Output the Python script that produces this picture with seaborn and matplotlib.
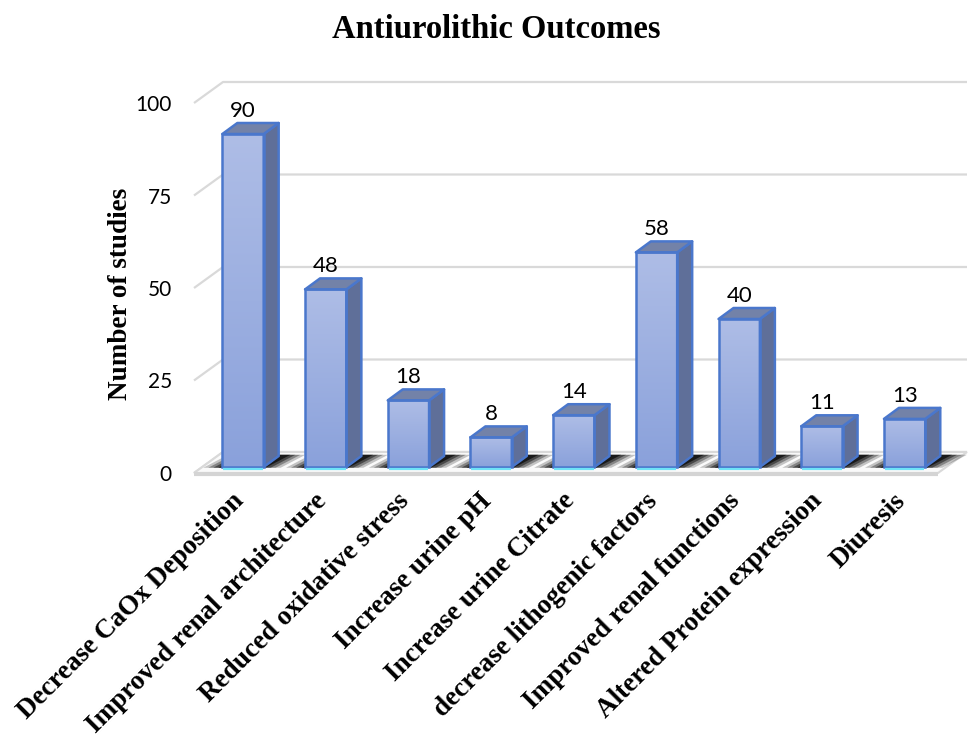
import numpy as np
import pandas as pd
import matplotlib
matplotlib.use("Agg")
import matplotlib.pyplot as plt
import matplotlib.transforms as mtransforms
import seaborn as sns
from matplotlib.patches import Polygon
from matplotlib.colors import LinearSegmentedColormap

# ---- data -------------------------------------------------------------
outcomes = [
    "Decrease CaOx Deposition",
    "Improved renal architecture",
    "Reduced oxidative stress",
    "Increase urine pH",
    "Increase urine Citrate",
    "decrease lithogenic factors",
    "Improved renal functions",
    "Altered Protein expression",
    "Diuresis",
]
studies = [90, 48, 18, 8, 14, 58, 40, 11, 13]
y_ticks = [0, 25, 50, 75, 100]

title = "Antiurolithic Outcomes"
y_label = "Number of studies"

# ---- style ------------------------------------------------------------
sns.set_theme(style="white")
plt.rcParams["font.family"] = ["Liberation Serif", "DejaVu Serif"]
NUM_FONT = ["Lato", "DejaVu Sans"]

FRONT_TOP = "#aebde6"
FRONT_BOT = "#8aa1db"
SIDE_COL = "#5f6f99"
TOP_COL = "#7382a8"
EDGE_COL = "#4a77cc"
GLOW_COL = "#6fe3f7"
GRID_COL = "#d9d9d9"

W, H = 968, 736
fig = plt.figure(figsize=(W / 100, H / 100), dpi=100)

# axes placed in pixel units; one category = CAT_PX px, one study = VAL_PX px
L, R, T, B = 180, 968, 70, 480
CAT_PX, VAL_PX = 82.7, 3.7
X0, Y0 = 243, 467
ax = fig.add_axes([L / W, 1 - B / H, (R - L) / W, (B - T) / H])


def px_offset(dx, dy):
    """screen offset in pixels -> offset in (category, value) units"""
    return dx / CAT_PX, -dy / VAL_PX


FDX, FDY = px_offset(-9, 6)     # front edge of the floor / walls
BDX, BDY = px_offset(20, -15)   # back wall
DDX, DDY = px_offset(15, -11)   # depth of every column
XA = (203 - X0) / CAT_PX
XB = (947 - X0) / CAT_PX
PX = 1 / CAT_PX                 # one pixel in category units

# ---- columns (front faces) -------------------------------------------
df = pd.DataFrame({"outcome": outcomes, "studies": studies})
sns.barplot(data=df, x="outcome", y="studies", width=0.5, color=FRONT_BOT,
            ax=ax, zorder=4)

# ---- back grid & left wall edges --------------------------------------
for v in y_ticks:
    ax.plot([XA + FDX, XA + BDX, XB + BDX], [v + FDY, v + BDY, v + BDY],
            color=GRID_COL, lw=1.6, zorder=0, solid_capstyle="butt",
            clip_on=False)

# ---- floor -------------------------------------------------------------
floor = Polygon([(XA + FDX, FDY), (XB + FDX, FDY), (XB + BDX, BDY),
                 (XA + BDX, BDY)], closed=True, facecolor="#fafafa",
                edgecolor=GRID_COL, lw=1.5, zorder=1)
ax.add_patch(floor)
ax.plot([XA + FDX, XB + FDX], [FDY - 0.3, FDY - 0.3], color="#d4d4d4",
        lw=3, zorder=1.5, solid_capstyle="butt")

# soft shadows cast on the floor next to each column
sx = DDX / DDY                   # slant follows the column depth
for i in range(len(outcomes)):
    xl, xr = i - 0.25, i + 0.25
    y_lo, y_hi = -0.2, 3.3
    run = sx * (y_hi - y_lo) * 1.4
    for k, a in enumerate([0.22, 0.32, 0.45, 0.65]):
        g = (3 - k) * 5 * PX
        shadow = Polygon([
            (xl - 4 * PX - g, y_lo), (xr + 2 * PX + g, y_lo),
            (xr + 2 * PX + g + run, y_hi), (xl - 4 * PX - g + run, y_hi)],
            closed=True, facecolor="black", edgecolor="none", alpha=a,
            zorder=2)
        ax.add_patch(shadow)

# ---- 3d shading of columns ---------------------------------------------
cmap = LinearSegmentedColormap.from_list("front", [FRONT_BOT, FRONT_TOP])
grad = np.linspace(0, 1, 256).reshape(-1, 1)
for patch, v in zip(ax.patches[:len(studies)], studies):
    xl = patch.get_x()
    xr = xl + patch.get_width()
    h = patch.get_height()
    patch.set_facecolor("none")
    patch.set_edgecolor(EDGE_COL)
    patch.set_linewidth(1.8)
    patch.set_zorder(6)
    ax.imshow(grad, extent=[xl, xr, 0, h], origin="lower", aspect="auto",
              cmap=cmap, zorder=5, interpolation="bilinear")
    side = Polygon([(xr, 0), (xr + DDX, DDY), (xr + DDX, h + DDY), (xr, h)],
                   closed=True, facecolor=SIDE_COL, edgecolor=EDGE_COL,
                   lw=1.8, zorder=5, joinstyle="round")
    top = Polygon([(xl, h), (xr, h), (xr + DDX, h + DDY), (xl + DDX, h + DDY)],
                  closed=True, facecolor=TOP_COL, edgecolor=EDGE_COL,
                  lw=1.8, zorder=5, joinstyle="round")
    ax.add_patch(side)
    ax.add_patch(top)
    ax.plot([xl + 0.01, xr - 0.01], [-0.5, -0.5], color=GLOW_COL, lw=1.6,
            zorder=7, solid_capstyle="butt")
    ax.text(xl + patch.get_width() / 2, h + 6.2, f"{v:g}", ha="center",
            va="center", fontsize=16, family=NUM_FONT, color="black",
            zorder=8)

# ---- axes, ticks and labels -------------------------------------------
ax.set_xlim((L - X0) / CAT_PX, (R - X0) / CAT_PX)
ax.set_ylim((Y0 - B) / VAL_PX, (Y0 - T) / VAL_PX)
for s in ax.spines.values():
    s.set_visible(False)
ax.grid(False)
ax.set_facecolor("white")

ax.set_yticks([v + FDY for v in y_ticks], [str(v) for v in y_ticks])
ax.tick_params(axis="y", length=0, pad=5.8)
for lab in ax.get_yticklabels():
    lab.set_family(NUM_FONT)
    lab.set_fontsize(15)
    lab.set_color("black")

ax.set_xticks(range(len(outcomes)), outcomes, rotation=45, ha="right",
              rotation_mode="anchor")
ax.tick_params(axis="x", length=0, pad=6)
shift = mtransforms.ScaledTranslation(-12 / 100, 0, fig.dpi_scale_trans)
for lab in ax.get_xticklabels():
    lab.set_fontweight("bold")
    lab.set_fontsize(19.5)
    lab.set_color("black")
    lab.set_transform(lab.get_transform() + shift)

ax.set_xlabel("")
ax.set_ylabel(y_label, fontsize=19.5, fontweight="bold", color="black")
ax.yaxis.set_label_coords((133 - L) / (R - L), (B - 294) / (B - T))

fig.text(496 / W, 1 - 30 / H, title, ha="center", va="center",
         fontsize=23.5, fontweight="bold", color="black")

fig.savefig("out.png", dpi=100, facecolor="white")
